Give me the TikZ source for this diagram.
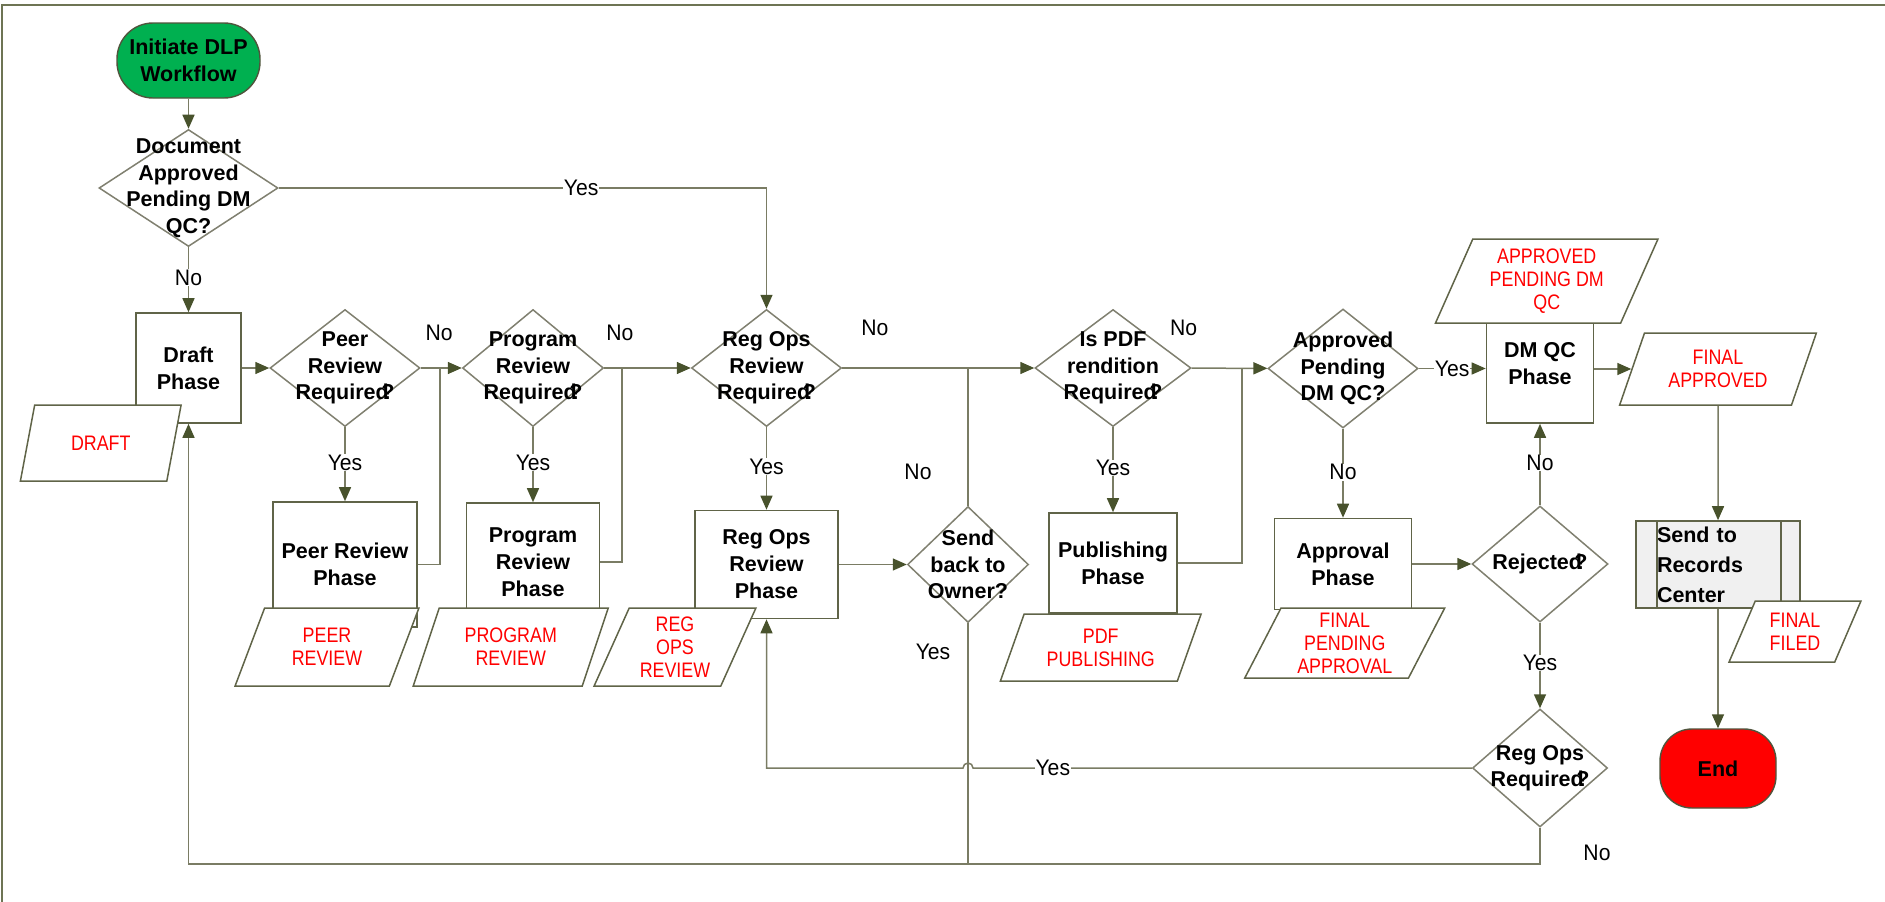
\documentclass[tikz,border=0pt]{standalone}
\usepackage{fontspec}
\setmainfont{Liberation Sans}
\newfontfamily\tagfont{Liberation Sans}[FakeStretch=0.85]
\newfontfamily\ynfont{Liberation Sans}[FakeStretch=0.94]
\usetikzlibrary{shapes, arrows.meta, positioning, calc}

\definecolor{linec}{RGB}{122,124,100}
\definecolor{tipc}{RGB}{72,82,44}
\definecolor{boxc}{RGB}{96,100,72}
\definecolor{diac}{RGB}{128,128,112}
\definecolor{framec}{RGB}{110,116,84}
\definecolor{termc}{RGB}{80,84,60}
\definecolor{startgreen}{RGB}{0,176,80}
\definecolor{endred}{RGB}{255,0,0}
\definecolor{procgray}{RGB}{240,240,240}

% question mark that runs into the last letter
\newcommand{\ovq}{\kern-.35em?}

\begin{document}
\begin{tikzpicture}[x=1pt, y=-1pt,
		phase/.style={rectangle, draw=boxc, line width=1.6pt, fill=white, align=center, inner sep=2pt, font=\bfseries\fontsize{21.5}{27}\selectfont},
		decide/.style={diamond, draw=diac, line width=1.5pt, fill=white, inner sep=0pt, label={[align=center, font=\bfseries\fontsize{21.5}{26.5}\selectfont]center:#1}},
		term/.style={rectangle, rounded corners=36pt, draw=termc, line width=1.4pt, align=center, font=\bfseries\fontsize{21.5}{27}\selectfont},
		tag/.style={trapezium, trapezium left angle=66, trapezium right angle=114, trapezium stretches=true, draw=boxc, line width=1.5pt, fill=white, align=center, inner sep=0pt, text=red, font=\tagfont\fontsize{21}{23}\selectfont},
		arrow/.style={draw=linec, line width=1.5pt, -{Triangle[length=14pt, width=12pt, color=tipc]}},
		link/.style={draw=linec, line width=1.5pt},
		yn/.style={fill=white, inner sep=0.5pt, font=\ynfont\fontsize{22.5}{26}\selectfont}
		]
		\useasboundingbox (0,0) rectangle (1885,902);
		\draw[framec, line width=2pt] (1885,5) -- (2,5) -- (2,902);
		
		% start and end
		\node[term, fill=startgreen, minimum width=143pt, minimum height=75pt] (start) at (188.5,60.5) {Initiate DLP\\Workflow};
		\node[term, fill=endred, rounded corners=32pt, minimum width=116pt, minimum height=79pt] (end) at (1718,768.5) {End};
		
		% questions
		\node[decide={Document\\Approved\\Pending DM\\QC?}, minimum width=179pt, minimum height=117pt] (qdoc) at (188.5,188) {};
		\node[decide={Peer\\Review\\Required\ovq}, minimum width=150pt, minimum height=117pt] (qpeer) at (345,368) {};
		\node[decide={Program\\Review\\Required\ovq}, minimum width=141pt, minimum height=117pt] (qprog) at (533,368) {};
		\node[decide={Reg Ops\\Review\\Required\ovq}, minimum width=150pt, minimum height=117pt] (qreg) at (766.5,368) {};
		\node[decide={Is PDF\\rendition\\Required\ovq}, minimum width=156pt, minimum height=117pt] (qpdf) at (1113,368) {};
		\node[decide={Approved\\Pending\\DM QC?}, minimum width=150pt, minimum height=119pt] (qappr) at (1343,368.5) {};
		\node[decide={Send\\back to\\Owner?}, minimum width=121pt, minimum height=116pt] (qsend) at (968,564.5) {};
		\node[decide={Rejected\ovq}, minimum width=136pt, minimum height=116pt] (qrej) at (1540,564) {};
		\node[decide={Reg Ops\\Required\ovq}, minimum width=135pt, minimum height=118pt] (qregreq) at (1540,768) {};
		
		% phases
		\node[phase, minimum width=105pt, minimum height=110pt] (draft) at (188.5,368) {Draft\\Phase};
		\node[phase, minimum width=144pt, minimum height=125pt] (peerph) at (345,564.5) {Peer Review\\Phase};
		\node[phase, minimum width=133pt, minimum height=118pt] (progph) at (533,562) {Program\\Review\\Phase};
		\node[phase, minimum width=143pt, minimum height=108pt] (regph) at (766.5,564.5) {Reg Ops\\Review\\Phase};
		\node[phase, minimum width=128pt, minimum height=100pt] (pubph) at (1113,563) {Publishing\\Phase};
		\node[phase, minimum width=137pt, minimum height=91pt] (apprph) at (1343,564) {Approval\\Phase};
		\node[phase, minimum width=107pt, minimum height=118pt] (dmqc) at (1540,364) {DM QC\\Phase};
		\node[phase, fill=procgray, minimum width=164pt, minimum height=87pt, text width=122pt, align=left, font=\bfseries\fontsize{21.5}{30}\selectfont] (records) at (1718,564.5) {Send to\\Records\\Center};
		\draw[boxc, line width=1.6pt] ($(records.north west)+(22,0)$) -- ($(records.south west)+(22,0)$)
			($(records.north east)+(-20,0)$) -- ($(records.south east)+(-20,0)$);
		
		% status tags
		\node[tag, minimum width=161pt, minimum height=76pt] (tdraft) at (100.75,443) {DRAFT};
		\node[tag, minimum width=184pt, minimum height=78pt] (tpeer) at (327,647) {PEER\\REVIEW};
		\node[tag, minimum width=195pt, minimum height=78pt] (tprog) at (510.75,647) {PROGRAM\\REVIEW};
		\node[tag, minimum width=162pt, minimum height=78pt] (treg) at (675,647) {REG\\OPS\\REVIEW};
		\node[tag, minimum width=201pt, minimum height=67pt] (tpdf) at (1100.75,647.5) {PDF\\PUBLISHING};
		\node[tag, minimum width=200pt, minimum height=70pt] (tfinpend) at (1344.75,643) {FINAL\\PENDING\\APPROVAL};
		\node[tag, minimum width=223pt, minimum height=84pt] (tapprpend) at (1546.75,281) {APPROVED\\PENDING DM\\QC};
		\node[tag, minimum width=197pt, minimum height=72pt] (tfinappr) at (1718,369) {FINAL\\APPROVED};
		\node[tag, minimum width=132pt, minimum height=61pt] (tfiled) at (1795,631.5) {FINAL\\FILED};
		
		\coordinate (jpeer) at (440,368);
		\coordinate (jprog) at (622,368);
		\coordinate (jpub) at (1242,368);
		\coordinate (bot) at (0,864);
		
		\draw[arrow] (start) -- (qdoc);
		\draw[arrow] (qdoc.east) -| node[yn, pos=.31]{Yes} (qreg.north);
		\draw[arrow] (qdoc) -- node[yn, pos=.47]{No} (draft);
		\draw[arrow] (draft) -- (qpeer);
		\draw[arrow] (qpeer) -- node[yn, pos=.45, yshift=35pt]{No} (qprog);
		\draw[arrow] (qpeer) -- node[yn, pos=.48]{Yes} (peerph);
		\draw[link] (peerph.east) -| (jpeer);
		\draw[arrow] (qprog) -- node[yn, pos=.18, yshift=35pt]{No} (qreg);
		\draw[arrow] (qprog) -- node[yn, pos=.47]{Yes} (progph);
		\draw[link] (progph.east) -| (jprog);
		\draw[arrow] (qreg) -- node[yn, pos=.17, yshift=40pt]{No} (qpdf);
		\draw[arrow] (qreg) -- node[yn, pos=.48]{Yes} (regph);
		\draw[arrow] (regph) -- (qsend);
		\draw[link] (qsend.north) -- node[yn, pos=.245, xshift=-50pt]{No} (qsend.north |- qreg.east);
		\draw[link] (qsend.south) -- node[yn, pos=.12, xshift=-35pt]{Yes} (qsend.south |- bot);
		\draw[arrow] (qpdf) -- node[yn, pos=0, xshift=-8pt, yshift=40pt]{No} (qappr);
		\draw[arrow] (qpdf) -- node[yn, pos=.48]{Yes} (pubph);
		\draw[link] (pubph.east) -| (jpub);
		\draw[arrow] (qappr.east) -- node[yn, pos=.5]{Yes} (qappr.east -| dmqc.west);
		\draw[arrow] (qappr) -- node[yn, pos=.49]{No} (apprph);
		\draw[arrow] (apprph) -- (qrej);
		\draw[arrow] (qrej) -- node[yn, pos=.52]{No} (dmqc);
		\draw[arrow] (qrej) -- node[yn, pos=.47]{Yes} (qregreq);
		\draw[arrow] (tfinappr.west -| dmqc.east) -- (tfinappr.west);
		\draw[arrow] (tfinappr) -- (records);
		\draw[arrow] (records) -- (end);
		\draw[arrow] (qregreq.west) -- node[yn, pos=.84]{Yes} ($(qsend.south |- qregreq.west)+(5,0)$) arc[start angle=0, end angle=180, radius=5pt] -| (regph.south);
		\draw[arrow] (qregreq.south) -- node[yn, pos=.7, xshift=57pt]{No} (qregreq.south |- bot) -| (draft.south);
		
	\end{tikzpicture}
\end{document}
